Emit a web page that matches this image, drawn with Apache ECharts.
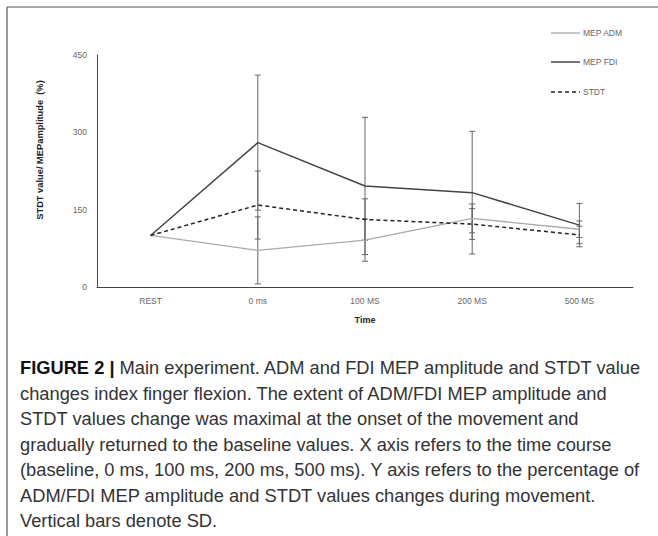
<!DOCTYPE html>
<html>
<head>
<meta charset="utf-8">
<script src="https://cdn.jsdelivr.net/npm/echarts@6/dist/echarts.min.js"></script>
<style>
html,body{margin:0;padding:0;background:#fff;}
#chart{width:658px;height:536px;}
</style>
</head>
<body>
<div id="chart"></div>
<script>
var categories = ['REST', '0 ms', '100 MS', '200 MS', '500 MS'];
var admMean = [100, 71, 91, 133, 112];
var admSD = [0, 65, 41, 28, 16];
var fdiMean = [100, 280, 196, 183, 120];
var fdiSD = [0, 131, 133, 119, 42];
var stdtMean = [100, 159, 131, 122, 101];
var stdtSD = [0, 66, 40, 30, 17];
var yTicks = [0, 150, 300, 450];
var seriesNames = ['MEP ADM', 'MEP FDI', 'STDT'];
var captionLines = [
  'Main experiment. ADM and FDI MEP amplitude and STDT value',
  'changes index finger flexion. The extent of ADM/FDI MEP amplitude and',
  'STDT values change was maximal at the onset of the movement and',
  'gradually returned to the baseline values. X axis refers to the time course',
  '(baseline, 0 ms, 100 ms, 200 ms, 500 ms). Y axis refers to the percentage of',
  'ADM/FDI MEP amplitude and STDT values changes during movement.',
  'Vertical bars denote SD.'
];

var lineStyles = [
  {color: '#aaa', width: 1.3, type: 'solid'},
  {color: '#444', width: 1.5, type: 'solid'},
  {color: '#222', width: 1.5, type: [4, 3]}
];

function errData(mean, sd) {
  var out = [];
  for (var i = 0; i < mean.length; i++) {
    if (sd[i] > 0) out.push([i, mean[i], sd[i]]);
  }
  return out;
}

function renderErr(params, api) {
  var i = api.value(0), m = api.value(1), s = api.value(2);
  var top = api.coord([i, m + s]);
  var bot = api.coord([i, m - s]);
  var hw = 3;
  var st = {stroke: '#666', lineWidth: 1};
  return {
    type: 'group',
    children: [
      {type: 'line', shape: {x1: top[0], y1: top[1], x2: bot[0], y2: bot[1]}, style: st},
      {type: 'line', shape: {x1: top[0] - hw, y1: top[1], x2: top[0] + hw, y2: top[1]}, style: st},
      {type: 'line', shape: {x1: bot[0] - hw, y1: bot[1], x2: bot[0] + hw, y2: bot[1]}, style: st}
    ]
  };
}

var chart = echarts.init(document.getElementById('chart'), null, {renderer: 'svg'});

var captionText = '{b|FIGURE 2 |} ' + captionLines.join('\n');

var graphics = [
  {type: 'line', shape: {x1: 7, y1: 7, x2: 658, y2: 7}, style: {stroke: '#555', lineWidth: 1.2}},
  {type: 'line', shape: {x1: 7, y1: 7, x2: 7, y2: 536}, style: {stroke: '#555', lineWidth: 1.2}},
  {
    type: 'text', x: 40, y: 150, rotation: Math.PI / 2,
    style: {
      text: 'STDT value/ MEPamplitude  (%)',
      fill: '#222', font: 'bold 9.3px "Liberation Sans"',
      align: 'center', verticalAlign: 'middle'
    }
  },
  {
    type: 'text', left: 20, top: 355,
    style: {
      text: captionText,
      fill: '#333',
      fontSize: 18.3,
      fontFamily: 'Liberation Sans',
      lineHeight: 25.5,
      rich: {
        b: {fontWeight: 'bold', fill: '#111', fontSize: 18.3, fontFamily: 'Liberation Sans', lineHeight: 25.5}
      }
    }
  }
];

// legend drawn as graphic items (line sample + label)
var legendY = [33, 62, 92];
for (var k = 0; k < seriesNames.length; k++) {
  var ls = lineStyles[k];
  graphics.push({
    type: 'line',
    shape: {x1: 551, y1: legendY[k], x2: 580, y2: legendY[k]},
    style: {stroke: ls.color, lineWidth: ls.width, lineDash: ls.type === 'solid' ? null : ls.type}
  });
  graphics.push({
    type: 'text', x: 583, y: legendY[k],
    style: {text: seriesNames[k], fill: '#666', font: '8.5px "Liberation Sans"', verticalAlign: 'middle'}
  });
}

var means = [admMean, fdiMean, stdtMean];
var sds = [admSD, fdiSD, stdtSD];
var series = [];
for (var j = 0; j < 3; j++) {
  series.push({
    name: seriesNames[j], type: 'line', data: means[j], symbol: 'none',
    lineStyle: lineStyles[j], itemStyle: {color: lineStyles[j].color}, z: 3
  });
}
for (var j2 = 0; j2 < 3; j2++) {
  series.push({type: 'custom', renderItem: renderErr, data: errData(means[j2], sds[j2]), z: 2, silent: true});
}

chart.setOption({
  animation: false,
  backgroundColor: '#fff',
  grid: {left: 97, right: 25, top: 55, bottom: 249, containLabel: false},
  xAxis: {
    type: 'category',
    data: categories,
    boundaryGap: true,
    axisLine: {lineStyle: {color: '#444', width: 1}},
    axisTick: {show: false},
    axisLabel: {color: '#666', fontSize: 8.5, fontFamily: 'Liberation Sans', margin: 9},
    name: 'Time',
    nameLocation: 'middle',
    nameGap: 28,
    nameTextStyle: {color: '#222', fontSize: 9, fontWeight: 'bold', fontFamily: 'Liberation Sans'}
  },
  yAxis: {
    type: 'value',
    min: yTicks[0],
    max: yTicks[yTicks.length - 1],
    interval: yTicks[1] - yTicks[0],
    axisLine: {show: true, lineStyle: {color: '#444', width: 1}},
    axisTick: {show: false},
    splitLine: {show: false},
    axisLabel: {color: '#666', fontSize: 8.5, fontFamily: 'Liberation Sans', margin: 10}
  },
  graphic: graphics,
  series: series
});
</script>
</body>
</html>
